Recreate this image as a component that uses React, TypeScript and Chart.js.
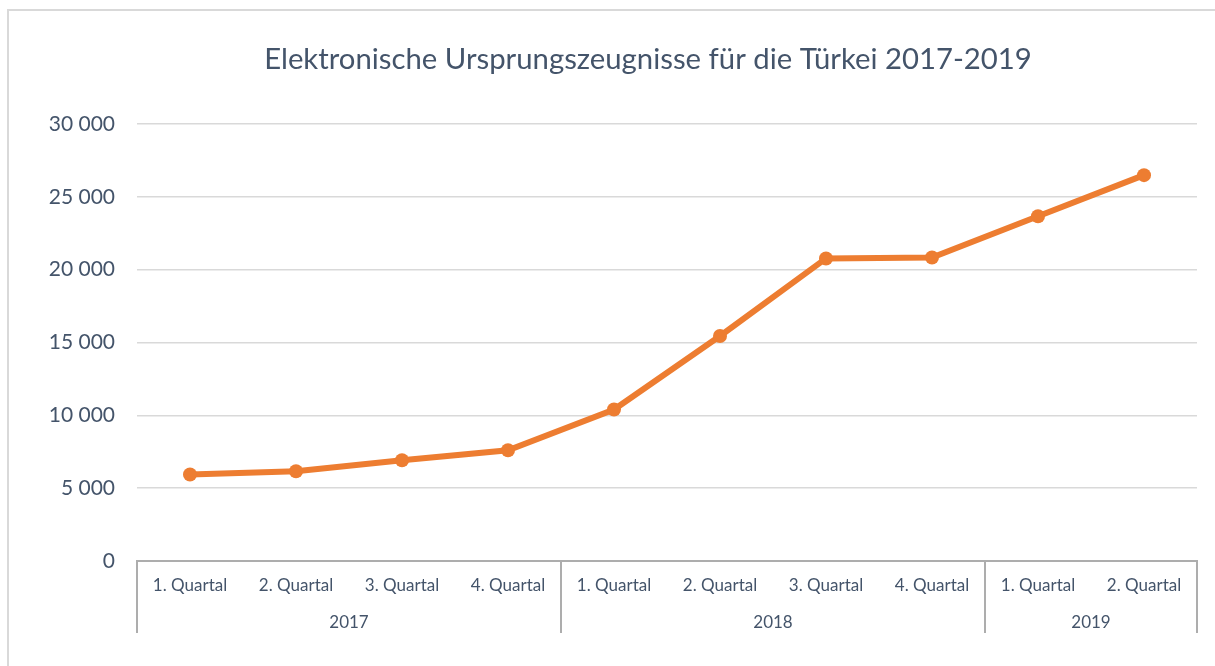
import React, { useEffect, useRef } from "react";
import { Chart, registerables } from "chart.js";

Chart.register(...registerables);

const TITLE = "Elektronische Ursprungszeugnisse für die Türkei 2017-2019";
const quarters = [
  "1. Quartal", "2. Quartal", "3. Quartal", "4. Quartal",
  "1. Quartal", "2. Quartal", "3. Quartal", "4. Quartal",
  "1. Quartal", "2. Quartal",
];
const years = ["2017", "2018", "2019"];
const quartersPerYear = [4, 4, 2];
const values = [5940, 6160, 6920, 7600, 10400, 15450, 20770, 20840, 23670, 26490];
const yMin = 0;
const yMax = 30000;
const yStep = 5000;

const TEXT = "#44546A";
const FONT = "Lato, 'Open Sans', sans-serif";

const fmt = (v: number) => String(v).replace(/\B(?=(\d{3})+(?!\d))/g, " ");

const decorPlugin = {
  id: "decor",
  beforeDraw(chart: any) {
    const ctx = chart.ctx;
    ctx.save();
    ctx.strokeStyle = "#D9D9D9";
    ctx.lineWidth = 2;
    ctx.beginPath();
    ctx.moveTo(8, chart.height);
    ctx.lineTo(8, 10);
    ctx.lineTo(chart.width, 10);
    ctx.stroke();
    ctx.restore();
  },
  afterDraw(chart: any) {
    const ctx = chart.ctx;
    const area = chart.chartArea;
    const x = chart.scales.x;
    ctx.save();
    // title
    ctx.fillStyle = TEXT;
    ctx.font = `29.3px ${FONT}`;
    ctx.textAlign = "center";
    ctx.textBaseline = "middle";
    ctx.fillText(TITLE, 648, 60);
    // year groups
    const step = x.getPixelForValue(1) - x.getPixelForValue(0);
    ctx.strokeStyle = "#ADADAD";
    ctx.lineWidth = 2;
    ctx.font = `17px ${FONT}`;
    let idx = 0;
    years.forEach((yr, i) => {
      const n = quartersPerYear[i];
      const left = x.getPixelForValue(idx) - step / 2;
      const right = x.getPixelForValue(idx + n - 1) + step / 2;
      ctx.beginPath();
      ctx.moveTo(left, area.bottom);
      ctx.lineTo(left, area.bottom + 72);
      ctx.moveTo(right, area.bottom);
      ctx.lineTo(right, area.bottom + 72);
      ctx.stroke();
      ctx.fillText(yr, (left + right) / 2, area.bottom + 61.5);
      idx += n;
    });
    ctx.restore();
  },
};

export default function App() {
  const ref = useRef<HTMLCanvasElement | null>(null);
  useEffect(() => {
    if (!ref.current) return;
    const chart = new Chart(ref.current, {
      type: "line",
      data: {
        labels: quarters,
        datasets: [
          {
            data: values,
            borderColor: "#ED7D31",
            backgroundColor: "#ED7D31",
            borderWidth: 6,
            pointRadius: 7,
            pointBorderWidth: 0,
            pointBackgroundColor: "#ED7D31",
            tension: 0,
          },
        ],
      },
      options: {
        animation: false,
        responsive: true,
        maintainAspectRatio: false,
        layout: { padding: { top: 124, left: 0, right: 18, bottom: 25 } },
        plugins: {
          legend: { display: false },
          title: { display: false },
          tooltip: { enabled: false },
        },
        scales: {
          x: {
            type: "category",
            offset: true,
            grid: { display: false, drawTicks: false },
            border: { display: true, color: "#ADADAD", width: 2 },
            ticks: {
              color: TEXT,
              font: { family: FONT, size: 17 },
              padding: 14,
              maxRotation: 0,
              autoSkip: false,
            },
            afterFit(scale: any) {
              scale.height = 80;
            },
          },
          y: {
            min: yMin,
            max: yMax,
            grid: { color: "#D9D9D9", lineWidth: 1.5, drawTicks: false },
            border: { display: false },
            ticks: {
              stepSize: yStep,
              color: TEXT,
              font: { family: FONT, size: 21 },
              padding: 22,
              callback: (v: any) => fmt(Number(v)),
            },
            afterFit(scale: any) {
              scale.width = 137;
            },
          },
        },
      },
      plugins: [decorPlugin],
    });
    return () => chart.destroy();
  }, []);
  return (
    <div style={{ position: "fixed", left: 0, top: 0, width: 1215, height: 666, background: "#fff" }}>
      <canvas ref={ref} />
    </div>
  );
}
